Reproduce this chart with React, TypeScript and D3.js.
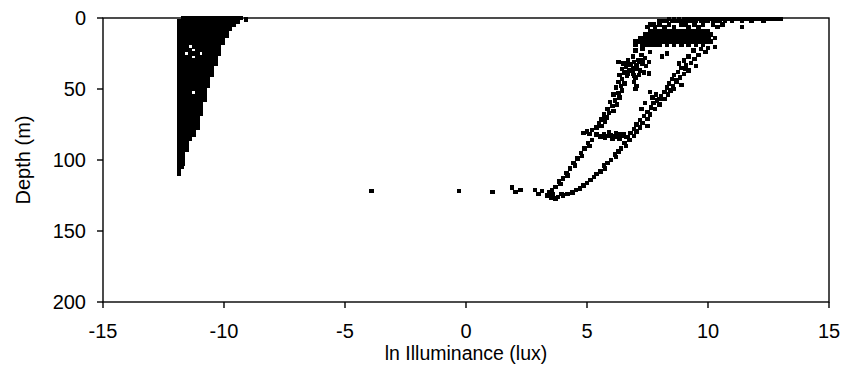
import React from "react";
import * as d3 from "d3";

const W = 844;
const H = 370;
const M = { left: 103, right: 829, top: 18, bottom: 302 };

const X_DOMAIN: [number, number] = [-15, 15];
const Y_DOMAIN: [number, number] = [0, 200];
const X_TICKS = [-15, -10, -5, 0, 5, 10, 15];
const Y_TICKS = [0, 50, 100, 150, 200];
const X_TITLE = "ln Illuminance (lux)";
const Y_TITLE = "Depth (m)";

// Dense low-light profile cluster: rows of [depth (m), ln illuminance values]
const LEFT_ROWS: [number, number[]][] = [
  [0, [-11.7, -11.55, -11.4, -11.25, -11.1, -10.95, -10.8, -10.65, -10.5, -10.35, -10.2, -10.05, -9.9, -9.75, -9.6, -9.45, -9.3]],
  [2.5, [-11.85, -11.7, -11.55, -11.4, -11.25, -11.1, -10.95, -10.8, -10.65, -10.5, -10.35, -10.2, -10.05, -9.9, -9.75, -9.6, -9.45]],
  [5, [-11.85, -11.7, -11.55, -11.4, -11.25, -11.1, -10.95, -10.8, -10.65, -10.5, -10.35, -10.2, -10.05, -9.9, -9.75, -9.6]],
  [7.5, [-11.85, -11.7, -11.55, -11.4, -11.25, -11.1, -10.95, -10.8, -10.65, -10.5, -10.35, -10.2, -10.05, -9.9, -9.75]],
  [10, [-11.85, -11.7, -11.55, -11.4, -11.25, -11.1, -10.95, -10.8, -10.65, -10.5, -10.35, -10.2, -10.05, -9.9]],
  [12.5, [-11.85, -11.7, -11.55, -11.4, -11.25, -11.1, -10.95, -10.8, -10.65, -10.5, -10.35, -10.2, -10.05, -9.9]],
  [15, [-11.85, -11.7, -11.55, -11.4, -11.25, -11.1, -10.95, -10.8, -10.65, -10.5, -10.35, -10.2, -10.05]],
  [17.5, [-11.85, -11.7, -11.55, -11.4, -11.25, -11.1, -10.95, -10.8, -10.65, -10.5, -10.35, -10.2, -10.05]],
  [20, [-11.85, -11.7, -11.55, -11.25, -11.1, -10.95, -10.8, -10.65, -10.5, -10.35, -10.2]],
  [22.5, [-11.85, -11.7, -11.55, -11.4, -11.1, -10.95, -10.8, -10.65, -10.5, -10.35, -10.2]],
  [25, [-11.85, -11.7, -11.4, -11.25, -11.1, -10.8, -10.65, -10.5, -10.35, -10.2]],
  [27.5, [-11.85, -11.7, -11.55, -11.4, -11.1, -10.95, -10.8, -10.65, -10.5, -10.35]],
  [30, [-11.85, -11.7, -11.55, -11.4, -11.25, -11.1, -10.95, -10.8, -10.65, -10.5, -10.35]],
  [32.5, [-11.85, -11.7, -11.55, -11.4, -11.25, -11.1, -10.95, -10.8, -10.65, -10.5, -10.35]],
  [35, [-11.85, -11.7, -11.55, -11.4, -11.25, -11.1, -10.95, -10.8, -10.65, -10.5]],
  [37.5, [-11.85, -11.7, -11.55, -11.4, -11.25, -11.1, -10.95, -10.8, -10.65, -10.5]],
  [40, [-11.85, -11.7, -11.55, -11.4, -11.25, -11.1, -10.95, -10.8, -10.65, -10.5]],
  [42.5, [-11.85, -11.7, -11.55, -11.4, -11.25, -11.1, -10.95, -10.8, -10.65]],
  [45, [-11.85, -11.7, -11.55, -11.4, -11.25, -11.1, -10.95, -10.8, -10.65]],
  [47.5, [-11.85, -11.7, -11.55, -11.4, -11.25, -11.1, -10.95, -10.8, -10.65]],
  [50, [-11.85, -11.7, -11.55, -11.4, -11.25, -11.1, -10.95, -10.8]],
  [52.5, [-11.85, -11.7, -11.55, -11.4, -11.1, -10.95, -10.8]],
  [55, [-11.85, -11.7, -11.55, -11.4, -11.25, -11.1, -10.95, -10.8]],
  [57.5, [-11.85, -11.7, -11.55, -11.4, -11.25, -11.1, -10.95, -10.8]],
  [60, [-11.85, -11.7, -11.55, -11.4, -11.25, -11.1, -10.95]],
  [62.5, [-11.85, -11.7, -11.55, -11.4, -11.25, -11.1, -10.95]],
  [65, [-11.85, -11.7, -11.55, -11.4, -11.25, -11.1, -10.95]],
  [67.5, [-11.85, -11.7, -11.55, -11.4, -11.25, -11.1, -10.95]],
  [70, [-11.85, -11.7, -11.55, -11.4, -11.25, -11.1]],
  [72.5, [-11.85, -11.7, -11.55, -11.4, -11.25, -11.1]],
  [75, [-11.85, -11.7, -11.55, -11.4, -11.25, -11.1]],
  [77.5, [-11.85, -11.7, -11.55, -11.4, -11.25, -11.1]],
  [80, [-11.85, -11.7, -11.55, -11.4, -11.25]],
  [82.5, [-11.85, -11.7, -11.55, -11.4, -11.25]],
  [85, [-11.85, -11.7, -11.55, -11.4]],
  [87.5, [-11.85, -11.7, -11.55]],
  [90, [-11.85, -11.7, -11.55]],
  [92.5, [-11.85, -11.7, -11.55]],
  [95, [-11.85, -11.7]],
  [97.5, [-11.85, -11.7]],
  [100, [-11.85, -11.7]],
  [102.5, [-11.85, -11.7]],
  [105, [-11.85, -11.75]],
  [107.5, [-11.85]],
  [109.5, [-11.85]],
];
const LEFT_EXTRA: [number, number][] = [[-9.1, 1]];

// Daylight cluster: surface band and dense shallow band, rows of [depth, values]
const RIGHT_ROWS: [number, number[]][] = [
  [0.5, [8.4, 8.6, 8.8, 9.0, 9.2, 9.4, 9.6, 9.75, 9.9, 10.05, 10.2, 10.4, 10.6, 10.75, 10.9, 11.1, 11.3, 11.45, 11.6, 11.75, 11.9, 12.05, 12.2, 12.35, 12.5, 12.65, 12.8, 13.0]],
  [2, [8.0, 8.15, 8.3, 8.5, 8.7, 8.85, 9.0, 9.2, 9.35, 9.5, 9.7, 9.85, 10.0, 10.2, 10.35, 10.5, 10.7, 11.0, 11.4, 11.8, 12.3]],
  [4.5, [7.6, 7.75, 8.0, 8.4, 8.9, 9.1, 9.45, 9.8, 10.2, 10.6]],
  [6.5, [7.5, 7.8, 8.2, 8.6, 9.2, 9.6, 10.4, 11.4]],
  [9, [7.6, 7.75, 7.9, 8.05, 8.2, 8.35, 8.5, 8.65, 8.8, 8.95, 9.1, 9.25, 9.4, 9.55, 9.7, 9.85, 10.0]],
  [11.5, [7.4, 7.55, 7.7, 7.85, 8.0, 8.15, 8.3, 8.45, 8.6, 8.75, 8.9, 9.05, 9.2, 9.35, 9.5, 9.65, 9.8, 9.95, 10.1]],
  [14, [7.2, 7.35, 7.5, 7.65, 7.8, 7.95, 8.1, 8.25, 8.4, 8.55, 8.7, 8.85, 9.0, 9.15, 9.3, 9.45, 9.6, 9.75, 9.9, 10.05, 10.3]],
  [16.5, [7.0, 7.15, 7.3, 7.45, 7.6, 7.75, 7.9, 8.05, 8.2, 8.35, 8.5, 8.65, 8.8, 8.95, 9.1, 9.25, 9.4, 9.55, 9.7, 9.85, 10.0, 10.1]],
  [19, [7.0, 7.3, 7.5, 7.7, 7.85, 8.0, 8.3, 8.6, 8.9, 9.2, 9.5, 9.8]],
];

// Daylight cluster: scattered [ln lux, depth] points of the two descending branches
const RIGHT_POINTS: [number, number][] = [
  [10.0, 21], [9.7, 22], [9.4, 23], [9.9, 24], [9.6, 26], [9.2, 27], [9.45, 29], [9.0, 30],
  [9.3, 31.5], [8.8, 32], [9.1, 33.5], [9.5, 34], [8.9, 35], [9.2, 37], [8.75, 38], [9.0, 39.5],
  [8.6, 40], [8.85, 42], [8.5, 43], [8.7, 45], [8.4, 46], [8.55, 48], [8.3, 49], [8.45, 51],
  [8.2, 52], [8.35, 54], [8.05, 55], [8.2, 57], [7.9, 58], [7.75, 60], [8.0, 61], [7.65, 63],
  [7.8, 64], [7.5, 66], [7.6, 68], [7.35, 69], [7.5, 71], [7.2, 72], [7.3, 74], [7.05, 75],
  [7.2, 77], [6.95, 78], [7.05, 80], [6.8, 81], [6.95, 83], [6.7, 84], [6.75, 86], [6.55, 88],
  [6.6, 90], [6.4, 92], [6.3, 94], [6.15, 96], [6.2, 98], [6.0, 100], [5.85, 102], [5.7, 104],
  [5.75, 106], [5.55, 108], [5.4, 110], [5.3, 112], [5.15, 114], [5.0, 116], [4.85, 118],
  [4.7, 120], [4.55, 121], [4.4, 123], [4.2, 124], [4.0, 125],
  [7.3, 22], [7.0, 23], [7.6, 24], [7.25, 26], [6.9, 27], [7.4, 28], [7.1, 29.5], [6.7, 30],
  [6.95, 31], [6.3, 31], [6.5, 32], [6.8, 33], [7.05, 33.5], [6.6, 34.5], [6.9, 35.5], [6.45, 36],
  [6.75, 37], [7.2, 37], [6.55, 38.5], [6.9, 39], [6.35, 40], [6.65, 41], [6.45, 43], [6.3, 45],
  [6.6, 31.5], [6.75, 32.5], [7.15, 31], [7.3, 32.5], [7.45, 34], [6.85, 36.5], [7.05, 36],
  [7.35, 38.5], [7.55, 39], [6.7, 39.5], [6.95, 40.5], [7.15, 40], [7.3, 30], [7.55, 31],
  [6.55, 46], [6.4, 48], [6.2, 49], [6.45, 51], [6.3, 53], [6.1, 54], [6.35, 56], [6.15, 58],
  [5.95, 59], [6.25, 61], [6.05, 62], [5.85, 64], [6.1, 65.5], [5.9, 67], [5.7, 68], [5.8, 70],
  [5.6, 71.5], [5.75, 73], [5.5, 74], [5.6, 76], [5.4, 77], [5.2, 79], [5.0, 80], [4.85, 81],
  [5.1, 81.5], [5.4, 82], [5.55, 83.5], [5.7, 82], [5.85, 83], [6.0, 82.5], [6.15, 83.5],
  [6.3, 82], [6.45, 83], [6.6, 84], [5.9, 80.5], [6.2, 81], [6.5, 81.5], [5.75, 84.5],
  [6.05, 85], [6.35, 85], [7.0, 42], [6.95, 45], [7.05, 48], [7.0, 50], [7.6, 52], [7.85, 54],
  [7.7, 56], [8.0, 57], [8.1, 27], [8.3, 25], [9.05, 36], [8.7, 44], [8.9, 47], [8.6, 50],
  [7.4, 60], [7.25, 64], [7.5, 76],
  [5.2, 86], [5.05, 88], [5.1, 90], [4.9, 92], [4.75, 95], [4.8, 97], [4.6, 99], [4.45, 102],
  [4.5, 104], [4.3, 106], [4.15, 109], [4.2, 111], [4.0, 113], [3.85, 115], [3.9, 117],
  [3.7, 119], [3.55, 121], [3.45, 123], [3.35, 125], [3.6, 124], [3.8, 126], [3.95, 124],
  [3.5, 126.5], [3.7, 127], [10.3, 20.5], [11.4, 6.5],
];

// Isolated points near 122 m
const STRAY_POINTS: [number, number][] = [
  [-3.9, 122], [-0.3, 122], [1.1, 122.5], [1.9, 119.5], [2.05, 122.5], [2.25, 121],
  [2.85, 121], [3.0, 124], [3.15, 122],
];

const FONT = "'Liberation Sans', Arial, Helvetica, sans-serif";

export default function App() {
  const x = d3.scaleLinear().domain(X_DOMAIN).range([M.left, M.right]);
  const y = d3.scaleLinear().domain(Y_DOMAIN).range([M.top, M.bottom]);

  const points: [number, number][] = [];
  LEFT_ROWS.forEach(([d, xs]) => xs.forEach((v) => points.push([v, d])));
  LEFT_EXTRA.forEach((p) => points.push(p));
  RIGHT_ROWS.forEach(([d, xs]) => xs.forEach((v) => points.push([v, d])));
  RIGHT_POINTS.forEach((p) => points.push(p));
  STRAY_POINTS.forEach((p) => points.push(p));

  const S = 4.4;
  const stroke = 1.4;

  return (
    <svg
      width={W}
      height={H}
      style={{ position: "absolute", left: 0, top: 0, background: "#fff" }}
      fontFamily={FONT}
    >
      <rect x={0} y={0} width={W} height={H} fill="#fff" />
      <rect
        x={M.left}
        y={M.top}
        width={M.right - M.left}
        height={M.bottom - M.top}
        fill="none"
        stroke="#000"
        strokeWidth={stroke}
      />
      {Y_TICKS.map((t) => (
        <g key={"y" + t}>
          <line x1={M.left - 6} x2={M.left} y1={y(t)} y2={y(t)} stroke="#000" strokeWidth={stroke} />
          <text x={86} y={y(t)} dy="0.36em" textAnchor="end" fontSize={20} fill="#000">
            {t}
          </text>
        </g>
      ))}
      {X_TICKS.map((t) => (
        <g key={"x" + t}>
          <line x1={x(t)} x2={x(t)} y1={M.bottom} y2={M.bottom + 6} stroke="#000" strokeWidth={stroke} />
          <text x={x(t)} y={338} textAnchor="middle" fontSize={20} fill="#000">
            {t}
          </text>
        </g>
      ))}
      <text x={(M.left + M.right) / 2} y={360} textAnchor="middle" fontSize={19.5} fill="#000">
        {X_TITLE}
      </text>
      <text
        transform={`translate(30, ${(M.top + M.bottom) / 2}) rotate(-90)`}
        textAnchor="middle"
        fontSize={20}
        fill="#000"
      >
        {Y_TITLE}
      </text>
      <g fill="#000" shapeRendering="crispEdges">
        {points.map(([v, d], i) => (
          <rect key={i} x={x(v) - S / 2} y={y(d) - S / 2} width={S} height={S} />
        ))}
      </g>
    </svg>
  );
}
